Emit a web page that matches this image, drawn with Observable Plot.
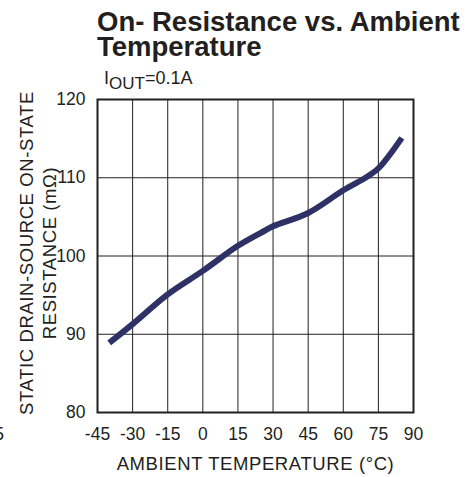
<!DOCTYPE html>
<html><head><meta charset="utf-8">
<script src="https://cdn.jsdelivr.net/npm/d3@7"></script>
<script src="https://cdn.jsdelivr.net/npm/@observablehq/plot@0.6"></script>
<style>
body{margin:0;background:#fff;font-family:"Liberation Sans",Arial,sans-serif;color:#231f20;}
#wrap{position:relative;width:472px;height:477px;overflow:hidden;background:#fff;}
#chart{position:absolute;left:0;top:60px;}
#title{position:absolute;left:97px;top:9px;font-size:27.5px;font-weight:bold;line-height:25px;white-space:nowrap;}
#sub{position:absolute;left:104px;top:69px;font-size:18px;line-height:18px;white-space:nowrap;}
#sub span{font-size:17px;position:relative;top:5px;}
#stray{position:absolute;left:-6px;top:425px;font-size:18px;line-height:18px;}
</style></head>
<body>
<div id="wrap">
  <div id="chart"></div>
  <div id="title">On- Resistance vs. Ambient<br>Temperature</div>
  <div id="sub">I<span>OUT</span>=0.1A</div>
  <div id="stray">5</div>
</div>
<script>
const temps = [-40, -30, -15, 0, 15, 25, 30, 45, 60, 70, 75, 80, 85];
const resistance = [88.9, 91.3, 95.1, 98.1, 101.3, 103.0, 103.8, 105.5, 108.4, 110.1, 111.2, 113.0, 115.1];
const xTicks = [-45, -30, -15, 0, 15, 30, 45, 60, 75, 90];
const yTicks = [80, 90, 100, 110, 120];
const xLabel = "AMBIENT TEMPERATURE (°C)";
const yLabel = "STATIC DRAIN-SOURCE ON-STATE\nRESISTANCE (mΩ)";

const data = temps.map((t, i) => ({t, r: resistance[i]}));
const ink = "#231f20";

const chart = Plot.plot({
  width: 472,
  height: 417,
  marginLeft: 97,
  marginRight: 59,
  marginTop: 39,
  marginBottom: 65,
  style: {fontFamily: '"Liberation Sans", Arial, sans-serif', fontSize: "17.5px", color: ink, background: "none", overflow: "visible"},
  x: {domain: [-45, 90]},
  y: {domain: [80, 120]},
  marks: [
    Plot.gridX(xTicks, {stroke: ink, strokeOpacity: 1, strokeWidth: 1}),
    Plot.gridY(yTicks, {stroke: ink, strokeOpacity: 1, strokeWidth: 1}),
    Plot.line(data, {x: "t", y: "r", curve: "catmull-rom", stroke: "#2e3166", strokeWidth: 6, strokeLinecap: "butt"}),
    Plot.frame({stroke: ink, strokeWidth: 2}),
    Plot.axisX(xTicks, {tickSize: 0, tickPadding: 15, label: null, fill: ink, fontSize: 17.5, tickFormat: d => String(d)}),
    Plot.axisY(yTicks, {tickSize: 0, tickPadding: 12, label: null, fill: ink, fontSize: 17.5, tickFormat: d => String(d)}),
    Plot.text([xLabel], {frameAnchor: "bottom", textAnchor: "middle", lineAnchor: "top", dy: 44, fontSize: 18.5, fill: ink}),
    Plot.text([yLabel], {frameAnchor: "left", textAnchor: "middle", rotate: -90, dx: -60, dy: -3, lineAnchor: "middle", lineHeight: 1.25, fontSize: 18.5, fill: ink})
  ]
});
chart.querySelectorAll("text").forEach(t => {
  if (t.textContent.startsWith("AMBIENT") || t.textContent.startsWith("STATIC")) t.style.letterSpacing = "0.6px";
});
document.getElementById("chart").appendChild(chart);
</script>
</body></html>
